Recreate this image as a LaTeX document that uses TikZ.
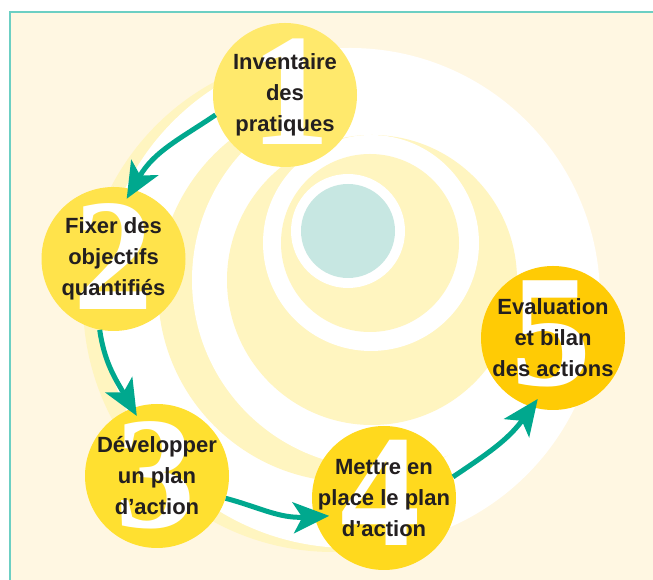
\documentclass[tikz,border=0pt]{standalone}
\usepackage{fontspec}
\setmainfont{Liberation Sans}
\newfontfamily\digitfont{Liberation Serif}[UprightFont={* Bold}]
\usetikzlibrary{arrows.meta,calc}
\definecolor{cream}{HTML}{FFF7E2}
\definecolor{pale}{HTML}{FFF5C0}
\definecolor{tealdisc}{HTML}{C7E7E2}
\definecolor{cA}{HTML}{FFE96C}
\definecolor{cB}{HTML}{FFE34B}
\definecolor{cC}{HTML}{FFE030}
\definecolor{cD}{HTML}{FFD91E}
\definecolor{cE}{HTML}{FFCB05}
\definecolor{ink}{HTML}{231F20}
\definecolor{arrowteal}{HTML}{00A88E}
\definecolor{framecol}{HTML}{6CCFC3}
\begin{document}
\begin{tikzpicture}[x=1pt,y=1pt,
  bubble/.style={circle, minimum size=144pt, inner sep=0pt},
  digit/.style={text=white, inner sep=0pt, font=\digitfont\fontsize{160}{160}\selectfont},
  bubbletext/.style={text=ink, align=center, inner sep=0pt, font=\bfseries\fontsize{22}{31}\selectfont},
  flow/.style={draw=arrowteal, line width=5pt, -{Stealth[length=36pt,width=31pt,inset=9pt]}}
]
\useasboundingbox (0,0) rectangle (653,580);
\fill[white] (0,0) rectangle (653,580);
\fill[cream] (10,0) rectangle (653,568);
\begin{scope}
  \clip (10,0) rectangle (653,568);
  \fill[pale]  (333,278) circle[radius=250];
  \fill[white] (350,282) circle[radius=250];
  \fill[pale]  (350,290) circle[radius=192];
  \fill[white] (380,300) circle[radius=188];
  \fill[pale]  (372,300) circle[radius=145];
  \fill[white] (371,337) circle[radius=108];
  \fill[pale]  (370,337) circle[radius=89];
  \fill[white] (348,349) circle[radius=57];
  \fill[tealdisc] (348,349) circle[radius=47];
\end{scope}
\draw[framecol, line width=1.2pt] (10,0) -- (10,568) -- (653,568);

% bubbles
\node[bubble, fill=cA] (n1) at (285,485) {};
\node[digit] (d1) at ($(n1)+(5,3.5)$) {1};
\node[bubbletext] (t1) at (n1) {Inventaire\\des\\pratiques};

\node[bubble, fill=cB] (n2) at (113.5,321) {};
\node[digit] (d2) at ($(n2)+(0,2)$) {2};
\node[bubbletext] (t2) at (n2) {Fixer des\\objectifs\\quantifiés};

\node[bubble, fill=cC] (n3) at (157,104) {};
\node[digit] (d3) at ($(n3)+(-2,1)$) {3};
\node[bubbletext] (t3) at (n3) {Développer\\un plan\\d’action};

\node[bubble, fill=cD] (n4) at (384,82) {};
\node[digit] (d4) at ($(n4)+(-4,5)$) {4};
\node[bubbletext] (t4) at (n4) {Mettre en\\place le plan\\d’action};

\node[bubble, fill=cE] (n5) at (553,242) {};
\node[digit] (d5) at ($(n5)+(-2,4)$) {5};
\node[bubbletext] (t5) at (n5) {Evaluation\\et bilan\\des actions};

% arrows
\draw[flow, shorten >=-11pt] (n1.196) to[out=214,in=60] (n2.75);
\draw[flow, shorten >=-9pt] (n2.259) to[out=278,in=120] (n3.110);
\draw[flow, shorten >=-15pt] (n3.342) to[out=-15,in=183] (n4.195);
\draw[flow, shorten >=-10pt] (n4.17) to[out=34,in=234] (n5.253);
\end{tikzpicture}
\end{document}
